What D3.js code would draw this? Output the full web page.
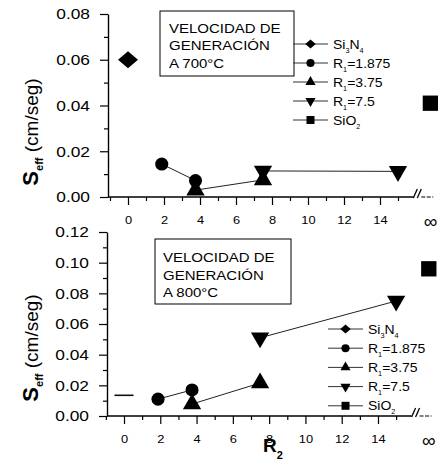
<!DOCTYPE html>
<html><head><meta charset="utf-8">
<script src="https://cdn.jsdelivr.net/npm/d3@7"></script>
<style>
body{margin:0;background:#fff}
svg{display:block}
text{font-family:"Liberation Sans",Arial,Helvetica,sans-serif;fill:#000}
</style>
</head><body>
<svg id="chart" width="438" height="464"></svg>
<script>
// S_eff versus R2 for each R1, at two generation temperatures
const xMajor = [0, 2, 4, 6, 8, 10, 12, 14];
const xMinor = [-1, 1, 3, 5, 7, 9, 11, 13, 15];
const yMajor700 = [0, 0.02, 0.04, 0.06, 0.08];
const yMinor700 = [0.01, 0.03, 0.05, 0.07];
const yMajor800 = [0, 0.02, 0.04, 0.06, 0.08, 0.10, 0.12];
const yMinor800 = [0.01, 0.03, 0.05, 0.07, 0.09, 0.11];

// 700 °C  ([R2, S_eff]; Infinity = bare SiO2 column)
const si3n4_700 = [[0, 0.060]];
const r1875_700 = [[1.875, 0.0144], [3.75, 0.0072]];
const r375_700  = [[3.75, 0.003], [7.5, 0.0075]];
const r75_700   = [[7.5, 0.0114], [15, 0.0112]];
const sio2_700  = [[Infinity, 0.041]];

// 800 °C
const si3n4_800 = [[0, 0.0135]];
const r1875_800 = [[1.875, 0.011], [3.75, 0.017]];
const r375_800  = [[3.75, 0.0078], [7.5, 0.0215]];
const r75_800   = [[7.5, 0.051], [15, 0.075]];
const sio2_800  = [[Infinity, 0.096]];

// legend entries: [text, subscript] pieces
const legendItems = [
  [["Si"], ["3", true], ["N"], ["4", true]],
  [["R"], ["1", true], ["=1.875"]],
  [["R"], ["1", true], ["=3.75"]],
  [["R"], ["1", true], ["=7.5"]],
  [["SiO"], ["2", true]]
];
const markerKinds = ["diamond", "circle", "triUp", "triDown", "square"];

const boxLines700 = ["VELOCIDAD DE", "GENERACIÓN", "A 700°C"];
const boxLines800 = ["VELOCIDAD DE", "GENERACIÓN", "A 800°C"];

const SX = 1.12; // horizontal text stretch
const svg = d3.select("#chart");

function stretch(sel, k = SX) {
  sel.each(function () {
    const t = d3.select(this);
    const x = +t.attr("x") || 0, y = +t.attr("y") || 0;
    t.attr("x", 0).attr("y", 0).attr("transform", `translate(${x},${y}) scale(${k},1)`);
  });
}

// symbol shapes
const diamond = {
  draw(ctx, size) {
    const w = Math.sqrt(size) / 2, h = w * 0.85;
    ctx.moveTo(0, -h); ctx.lineTo(w, 0); ctx.lineTo(0, h); ctx.lineTo(-w, 0); ctx.closePath();
  }
};
function markerPath(kind, big) {
  switch (kind) {
    case "diamond": return d3.symbol(diamond, big ? 400 : 110)();
    case "circle": return d3.symbol(d3.symbolCircle, big ? 135 : 52)();
    case "triUp": return d3.symbol(d3.symbolTriangle, big ? 145 : 45)();
    case "triDown": return d3.symbol(d3.symbolTriangle, big ? 145 : 45)();
    case "square": return d3.symbol(d3.symbolSquare, big ? 235 : 64)();
  }
}

function drawPanel(cfg) {
  const g = svg.append("g");
  const x = d3.scaleLinear().domain([0, 14]).range(cfg.xRange);
  const y = d3.scaleLinear().domain(cfg.yDomain).range(cfg.yRange);
  const xInf = x(16.8);
  const px = v => (v === Infinity ? xInf : x(v));
  const axisY = y(0);

  // x axis: major + minor ticks
  const gx = g.append("g").attr("transform", `translate(0,${axisY})`)
    .call(d3.axisBottom(x).tickValues(xMajor).tickSize(8).tickPadding(11).tickFormat(d3.format("d")));
  gx.select(".domain").remove();
  gx.selectAll("text").attr("font-size", 11.5).attr("font-family", null);
  stretch(gx.selectAll("text"));
  const gxm = g.append("g").attr("transform", `translate(0,${axisY})`)
    .call(d3.axisBottom(x).tickValues(xMinor).tickSize(4).tickFormat(""));
  gxm.select(".domain").remove();
  g.selectAll(".tick line").attr("stroke", "#000").attr("stroke-width", 1.2);

  // axis line with break before the ∞ column
  const brk = x(15.85);
  g.append("line").attr("x1", cfg.yAxisX).attr("x2", brk).attr("y1", axisY).attr("y2", axisY)
    .attr("stroke", "#000").attr("stroke-width", 1.4);
  [0, 4].forEach(o => {
    g.append("line").attr("x1", brk + o).attr("y1", axisY + 1).attr("x2", brk + o + 4).attr("y2", axisY - 8)
      .attr("stroke", "#000").attr("stroke-width", 1.3);
  });
  g.append("line").attr("x1", brk + 8).attr("x2", brk + 20).attr("y1", axisY).attr("y2", axisY)
    .attr("stroke", "#000").attr("stroke-width", 1.2).attr("stroke-dasharray", "4,1.5");
  g.append("text").attr("x", xInf).attr("y", axisY + 31).attr("text-anchor", "middle")
    .attr("font-size", 19).text("∞");

  // y axis
  const gy = g.append("g").attr("transform", `translate(${cfg.yAxisX},0)`)
    .call(d3.axisLeft(y).tickValues(cfg.yMajor).tickSize(8).tickSizeOuter(0).tickPadding(10).tickFormat(d3.format(".2f")));
  gy.select(".domain").attr("stroke-width", 1.4);
  gy.selectAll("text").attr("font-size", 15.5).attr("font-family", null);
  stretch(gy.selectAll("text"));
  const gym = g.append("g").attr("transform", `translate(${cfg.yAxisX},0)`)
    .call(d3.axisLeft(y).tickValues(cfg.yMinor).tickSize(4).tickFormat(""));
  gym.select(".domain").remove();
  g.selectAll(".tick line").attr("stroke", "#000").attr("stroke-width", 1.2);

  // y label
  const yl = g.append("text").attr("text-anchor", "middle")
    .attr("transform", `translate(${cfg.yLabelPos[0]},${cfg.yLabelPos[1]}) rotate(-90)`);
  yl.append("tspan").attr("font-weight", "bold").attr("font-size", 22).text("S");
  yl.append("tspan").attr("font-weight", "bold").attr("font-size", 11).attr("dy", 5).text("eff");
  yl.append("tspan").attr("font-size", 19).attr("dy", -5).text(" (cm/seg)");

  // info box
  g.append("rect").attr("x", cfg.box[0]).attr("y", cfg.box[1]).attr("width", cfg.box[2]).attr("height", cfg.box[3])
    .attr("fill", "#fff").attr("stroke", "#000").attr("stroke-width", 1);
  const bt = g.selectAll(".boxline").data(cfg.boxLines).join("text")
    .attr("x", cfg.box[0] + cfg.boxPad).attr("y", (d, i) => cfg.boxBase + i * cfg.boxStep)
    .attr("font-size", 12.5).text(d => d);
  stretch(bt, 1.2);

  // legend
  const lg = g.append("g");
  legendItems.forEach((parts, i) => {
    const ly = cfg.legend.y0 + i * cfg.legend.step;
    lg.append("line").attr("x1", cfg.legend.x1).attr("x2", cfg.legend.x2).attr("y1", ly).attr("y2", ly)
      .attr("stroke", "#333").attr("stroke-width", 1);
    lg.append("path").attr("d", markerPath(markerKinds[i], false))
      .attr("transform", `translate(${(cfg.legend.x1 + cfg.legend.x2) / 2},${ly})` + (markerKinds[i] === "triDown" ? " rotate(180)" : ""))
      .attr("fill", "#000");
    const t = lg.append("text").attr("x", cfg.legend.x2 + 5).attr("y", ly + 4.5).attr("font-size", 12.5);
    let lowered = false;
    parts.forEach(([s, sub]) => {
      if (sub) { t.append("tspan").attr("font-size", 6.5).attr("dy", lowered ? 0 : 4).text(s); lowered = true; }
      else { t.append("tspan").attr("dy", lowered ? -4 : 0).text(s); lowered = false; }
    });
    stretch(t);
  });

  // data: connecting lines then markers
  const line = d3.line().x(d => px(d[0])).y(d => y(d[1]));
  const series = cfg.series;
  series.forEach(s => {
    if (s.data.length > 1) {
      g.append("path").attr("d", line(s.data)).attr("fill", "none").attr("stroke", "#222").attr("stroke-width", 1);
    }
  });
  series.forEach(s => {
    s.data.forEach(d => {
      if (s.kind === "dash") {
        g.append("line").attr("x1", px(d[0]) - 9.5).attr("x2", px(d[0]) + 9.5)
          .attr("y1", y(d[1])).attr("y2", y(d[1])).attr("stroke", "#111").attr("stroke-width", 1.6);
      } else {
        g.append("path").attr("d", markerPath(s.kind, true))
          .attr("transform", `translate(${px(d[0])},${y(d[1])})` + (s.kind === "triDown" ? " rotate(180)" : ""))
          .attr("fill", "#000");
      }
    });
  });
}

drawPanel({
  xRange: [128, 380], yDomain: [0, 0.08], yRange: [197, 14], yAxisX: 108,
  yMajor: yMajor700, yMinor: yMinor700, yLabelPos: [38, 132],
  box: [160, 11, 134, 65], boxPad: 9, boxBase: 32.5, boxStep: 17.5, boxLines: boxLines700,
  legend: { x1: 293, x2: 328, y0: 44, step: 19 },
  series: [
    { kind: "diamond", data: si3n4_700 },
    { kind: "circle", data: r1875_700 },
    { kind: "triUp", data: r375_700 },
    { kind: "triDown", data: r75_700 },
    { kind: "square", data: sio2_700 }
  ]
});

drawPanel({
  xRange: [124, 378], yDomain: [0, 0.12], yRange: [416, 232], yAxisX: 107,
  yMajor: yMajor800, yMinor: yMinor800, yLabelPos: [38, 348],
  box: [155, 239, 136, 65], boxPad: 8, boxBase: 262, boxStep: 17.5, boxLines: boxLines800,
  legend: { x1: 328, x2: 363, y0: 329, step: 19.2 },
  series: [
    { kind: "dash", data: si3n4_800 },
    { kind: "circle", data: r1875_800 },
    { kind: "triUp", data: r375_800 },
    { kind: "triDown", data: r75_800 },
    { kind: "square", data: sio2_800 }
  ]
});

// x axis title
const xt = svg.append("text").attr("x", 263).attr("y", 452).attr("font-weight", "bold").attr("font-size", 19);
xt.append("tspan").text("R");
xt.append("tspan").attr("font-size", 11).attr("dy", 7).text("2");
</script>
</body></html>
